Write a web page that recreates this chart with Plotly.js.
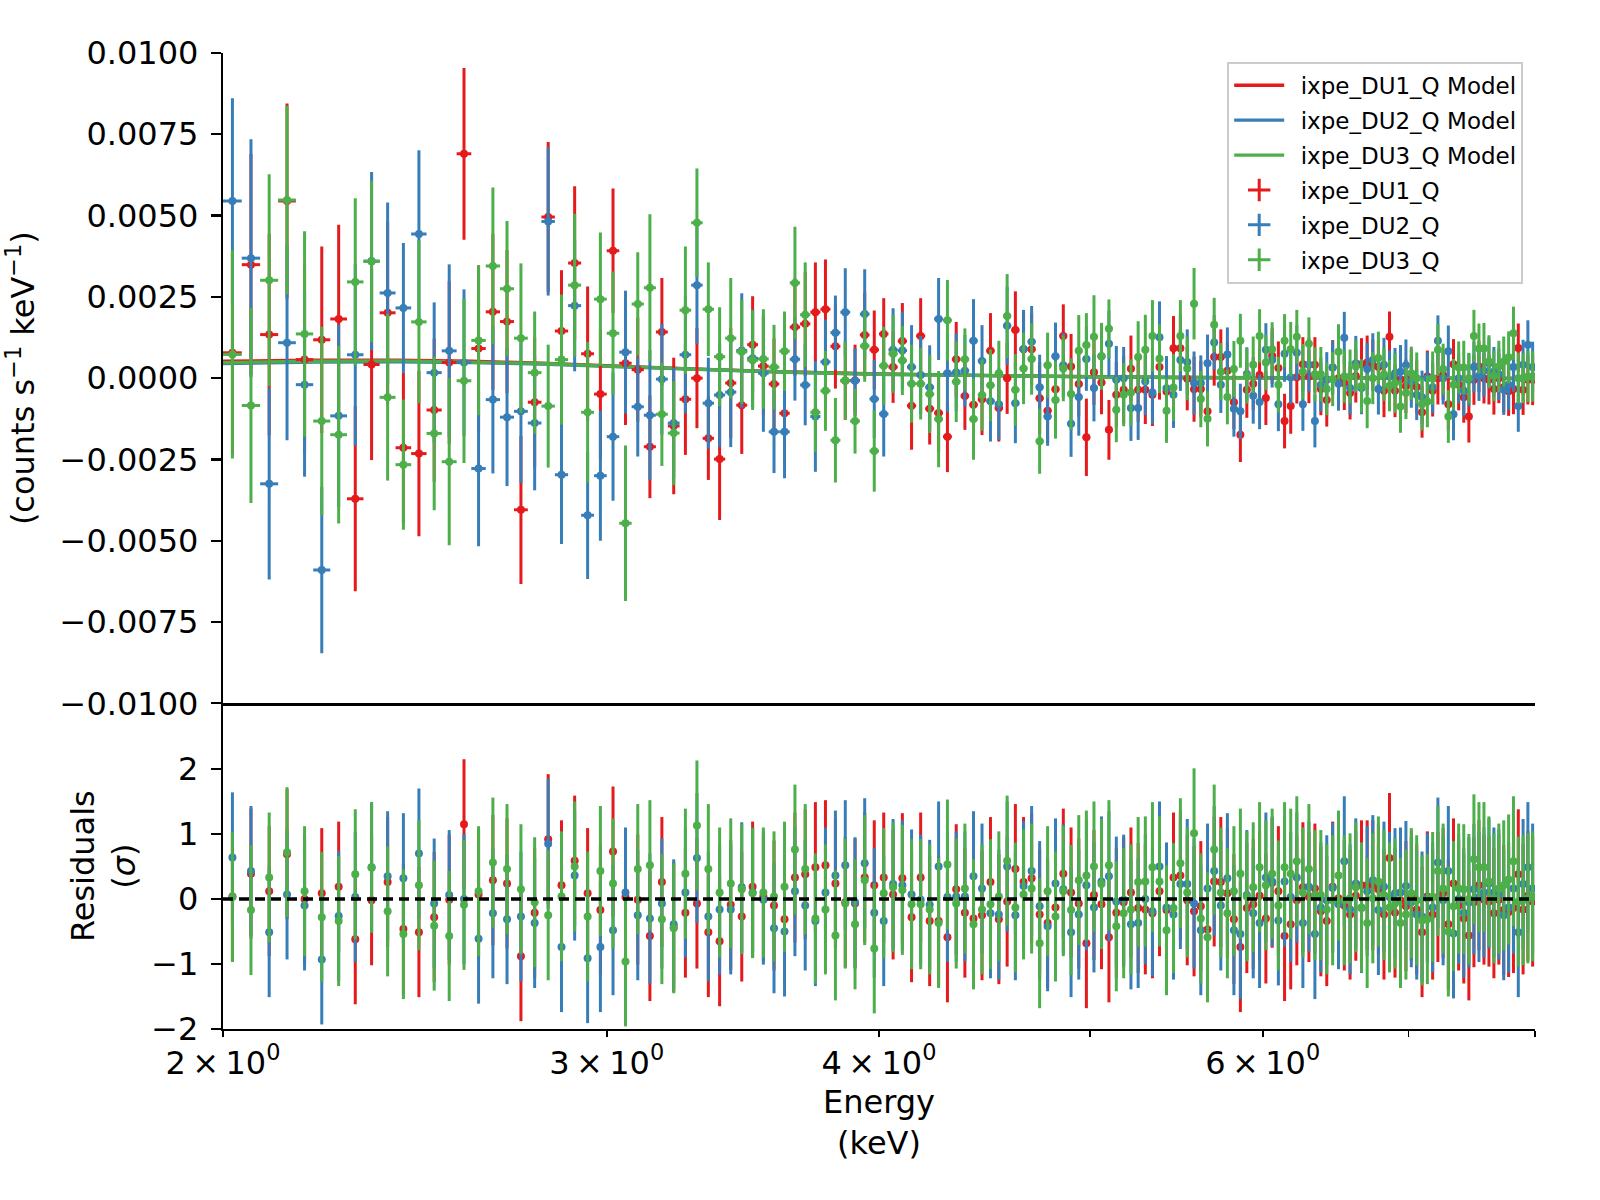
<!DOCTYPE html>
<html>
<head>
<meta charset="utf-8">
<script src="https://cdn.plot.ly/plotly-3.0.1.min.js"></script>
<style>
  body { margin: 0; background: #fff; }
  #plot { width: 1600px; height: 1200px; }
</style>
</head>
<body>
<div id="plot"></div>
<script>
// Energy bin centres (keV), 40 eV IXPE channels
var energy = [
  2.02, 2.06, 2.10, 2.14, 2.18, 2.22, 2.26, 2.30, 2.34, 2.38,
  2.42, 2.46, 2.50, 2.54, 2.58, 2.62, 2.66, 2.70, 2.74, 2.78,
  2.82, 2.86, 2.90, 2.94, 2.98, 3.02, 3.06, 3.10, 3.14, 3.18,
  3.22, 3.26, 3.30, 3.34, 3.38, 3.42, 3.46, 3.50, 3.54, 3.58,
  3.62, 3.66, 3.70, 3.74, 3.78, 3.82, 3.86, 3.90, 3.94, 3.98,
  4.02, 4.06, 4.10, 4.14, 4.18, 4.22, 4.26, 4.30, 4.34, 4.38,
  4.42, 4.46, 4.50, 4.54, 4.58, 4.62, 4.66, 4.70, 4.74, 4.78,
  4.82, 4.86, 4.90, 4.94, 4.98, 5.02, 5.06, 5.10, 5.14, 5.18,
  5.22, 5.26, 5.30, 5.34, 5.38, 5.42, 5.46, 5.50, 5.54, 5.58,
  5.62, 5.66, 5.70, 5.74, 5.78, 5.82, 5.86, 5.90, 5.94, 5.98,
  6.02, 6.06, 6.10, 6.14, 6.18, 6.22, 6.26, 6.30, 6.34, 6.38,
  6.42, 6.46, 6.50, 6.54, 6.58, 6.62, 6.66, 6.70, 6.74, 6.78,
  6.82, 6.86, 6.90, 6.94, 6.98, 7.02, 7.06, 7.10, 7.14, 7.18,
  7.22, 7.26, 7.30, 7.34, 7.38, 7.42, 7.46, 7.50, 7.54, 7.58,
  7.62, 7.66, 7.70, 7.74, 7.78, 7.82, 7.86, 7.90, 7.94, 7.98
];
var binHalfWidth = 0.02;

// Q spectra (counts s^-1 keV^-1)
var du1Q = [
  0.00078, 0.00349, 0.00134, 0.00545, 0.00057, 0.00118, 0.00182, -0.00371, 0.00042, 0.00201,
  -0.00214, -0.00232, -0.00098, 0.00048, 0.0069, 0.00091, 0.00204, 0.00174, -0.00405, -0.00074,
  0.00496, 0.00145, 0.00354, 0.00075, -0.00049, 0.00392, 0.00046, 0.00026, -0.00211, 0.00142,
  -0.00147, -0.00065, 0.0, -0.00185, -0.00249, -0.00015, -0.00083, 0.00103, 0.00037, -0.00018,
  -0.00108, 0.00157, 0.00167, 0.00203, 0.00212, 0.00098, -0.00008, -0.00007, 0.00133, 0.00087,
  0.00136, 0.00034, 0.00114, -0.00085, 0.0013, -0.00094, -0.00107, -0.0018, 0.00058, -0.00055,
  -0.00082, -0.00065, 0.00084, -0.00092, 0.0, 0.00148, 0.00089, 0.00089, -0.00062, -0.001,
  -0.00034, 0.0013, 0.00036, -0.00018, -0.00182, 0.00018, -0.00013, -0.00159, -0.00051, -0.00036,
  0.00029, -0.00036, -0.00036, -0.00051, 0.00034, -0.00041, 0.00092, 0.00092, -0.00002, -0.00034,
  -0.00033, -0.00102, 0.00065, 0.00065, 0.00023, -0.00074, -0.00174, -0.00036, -0.00017, 0.0001,
  -0.00061, 0.00069, 0.00031, -0.00132, -0.00086, 0.00003, 0.00043, 0.00005, 0.00041, -0.00033,
  -0.00067, 0.00033, 0.0, -0.00015, -0.00046, 0.00007, 0.00043, 0.00048, 0.0004, 0.00034,
  -0.00039, 0.00127, -0.00039, -0.00005, -0.00025, 0.0001, -0.00027, -0.00105, 0.00005, -0.00039,
  0.0, 0.0001, -0.0008, 0.00043, -0.0002, -0.00059, -0.00118, -0.00005, 0.00036, 0.0,
  -0.00005, -0.00033, 0.0, -0.00028, -0.0004, -0.00033, 0.00093, -0.00036, -0.00005, -0.00005
];
var du1Err = [
  0.0031, 0.0034, 0.0031, 0.0030, 0.0029, 0.00287, 0.0029, 0.00284, 0.00294, 0.0028,
  0.0023, 0.00254, 0.0022, 0.0025, 0.00264, 0.00256, 0.0024, 0.0022, 0.00228, 0.0020,
  0.0023, 0.00187, 0.00236, 0.00207, 0.0020, 0.00191, 0.0019, 0.0016, 0.00158, 0.00166,
  0.0021, 0.00171, 0.00154, 0.00128, 0.00187, 0.0017, 0.0015, 0.00149, 0.0015, 0.0014,
  0.0014, 0.0015, 0.0016, 0.00153, 0.00153, 0.0013, 0.0012, 0.0011, 0.0013, 0.00121,
  0.0011, 0.0011, 0.00117, 0.00135, 0.00116, 0.0011, 0.0012, 0.00109, 0.00115, 0.00104,
  0.0012, 0.0011, 0.00116, 0.00103, 0.0011, 0.00119, 0.00114, 0.0011, 0.0011, 0.001,
  0.0011, 0.00097, 0.001, 0.001, 0.00119, 0.001, 0.00098, 0.00092, 0.001, 0.00103,
  0.00102, 0.00098, 0.00105, 0.00096, 0.001, 0.00104, 0.00099, 0.00103, 0.00097, 0.001,
  0.00086, 0.00084, 0.00088, 0.00085, 0.00087, 0.00083, 0.00084, 0.00086, 0.00082, 0.00085,
  0.00083, 0.00086, 0.00082, 0.00084, 0.00085, 0.00081, 0.00083, 0.00082, 0.00085, 0.00081,
  0.00082, 0.00084, 0.0008, 0.00083, 0.00081, 0.00082, 0.0008, 0.00083, 0.00079, 0.00082,
  0.00081, 0.00078, 0.00081, 0.0008, 0.00082, 0.00079, 0.00081, 0.00078, 0.0008, 0.00079,
  0.00081, 0.00078, 0.0008, 0.00077, 0.00079, 0.00078, 0.0008, 0.00077, 0.00079, 0.00078,
  0.00076, 0.00079, 0.00077, 0.00078, 0.00076, 0.00078, 0.00075, 0.00077, 0.00076, 0.00078
];
var du2Q = [
  0.00545, 0.00369, -0.00325, 0.00109, -0.0002, -0.0059, -0.00116, 0.00072, 0.0036, 0.00262,
  0.00216, 0.00443, 0.00017, 0.00084, 0.00048, -0.00278, -0.00066, -0.0012, -0.00102, -0.00138,
  0.00482, -0.00297, 0.00223, -0.00422, -0.003, -0.0018, 0.0008, -0.00088, -0.00114, -0.00003,
  -0.00138, 0.00072, 0.00286, -0.00077, -0.00052, -0.00043, 0.00085, 0.00061, 0.00015, -0.00165,
  -0.00165, 0.00058, -0.00021, -0.00118, 0.0005, 0.0014, 0.00203, -0.00008, 0.00197, -0.00064,
  -0.0011, 0.00087, 0.00085, 0.00034, 0.0001, -0.00028, 0.00182, 0.00015, 0.00018, 0.00023,
  0.00115, 0.00053, -0.00071, -0.0008, 0.00161, -0.00077, 0.0009, 0.00112, -0.00028, -0.00118,
  0.00067, 0.0004, -0.0014, -0.00058, 0.00059, -0.0003, 0.00067, 0.00106, -0.00005, 0.0,
  -0.00092, -0.00092, -0.0001, -0.00044, 0.00126, -0.00031, -0.00051, 0.00056, 0.0005, -0.00015,
  -0.00015, 0.00046, 0.0011, -0.0002, 0.00073, -0.00094, -0.00102, 0.00013, -0.00054, -0.00073,
  0.00087, 0.00056, -0.0008, 0.00075, 0.00002, 0.00078, -0.0008, 0.00041, -0.00132, -0.0002,
  -0.00005, 0.00033, -0.00017, 0.00124, -0.0003, 0.00046, -0.0003, 0.00028, 0.00056, -0.00033,
  0.00041, 0.00005, 0.00015, 0.0002, 0.0004, -0.0001, -0.00051, -0.00059, 0.0, -0.00028,
  0.00115, 0.0, 0.00083, -0.00111, 0.0, -0.00039, -0.00005, 0.00034, 0.00007, 0.00023,
  0.00046, 0.0002, 0.00012, -0.00036, -0.0002, 0.00034, -0.00086, 0.00041, 0.00103, 0.00034
];
var du2Err = [
  0.00316, 0.00366, 0.00294, 0.0030, 0.00283, 0.00256, 0.0028, 0.0028, 0.00274, 0.00278,
  0.0020, 0.00258, 0.00216, 0.00266, 0.00225, 0.00239, 0.00227, 0.00212, 0.0022, 0.00207,
  0.00228, 0.00213, 0.00202, 0.00196, 0.0020, 0.00197, 0.00189, 0.00153, 0.0020, 0.0017,
  0.0017, 0.0018, 0.0018, 0.0014, 0.0016, 0.00169, 0.00176, 0.0015, 0.0018, 0.00127,
  0.00143, 0.00127, 0.00124, 0.0017, 0.0013, 0.00114, 0.00135, 0.001, 0.00138, 0.0012,
  0.00131, 0.00128, 0.0012, 0.00129, 0.0012, 0.00129, 0.00126, 0.0012, 0.0012, 0.0011,
  0.00128, 0.0011, 0.00124, 0.0011, 0.0012, 0.00123, 0.0012, 0.0011, 0.001, 0.0009,
  0.00104, 0.00099, 0.00102, 0.00119, 0.00098, 0.00103, 0.00097, 0.00101, 0.00104, 0.00096,
  0.00101, 0.00098, 0.00103, 0.00096, 0.0011, 0.00099, 0.00102, 0.00095, 0.001, 0.00097,
  0.00085, 0.00088, 0.00084, 0.00087, 0.00083, 0.00086, 0.00085, 0.00082, 0.00086, 0.00084,
  0.00082, 0.00085, 0.00083, 0.00086, 0.00081, 0.00084, 0.00082, 0.00084, 0.00081, 0.00083,
  0.00085, 0.00081, 0.00083, 0.0008, 0.00082, 0.00084, 0.00081, 0.0008, 0.00082, 0.00079,
  0.00083, 0.0008, 0.00078, 0.00082, 0.00079, 0.00081, 0.00078, 0.00082, 0.00079, 0.0008,
  0.00078, 0.00081, 0.00079, 0.0008, 0.00077, 0.00079, 0.00081, 0.00078, 0.00077, 0.0008,
  0.00078, 0.00076, 0.00079, 0.00077, 0.00078, 0.00076, 0.00079, 0.00077, 0.00075, 0.00078
];
var du3Q = [
  0.00073, -0.00084, 0.00301, 0.00548, 0.00136, -0.00132, -0.00174, 0.00296, 0.00359, -0.00059,
  -0.00266, 0.00173, -0.0017, -0.00257, -0.00008, 0.00116, 0.00345, 0.00275, 0.00123, 0.00017,
  -0.00086, 0.00057, 0.00286, -0.00105, 0.00243, 0.00138, -0.00446, 0.00228, 0.00278, -0.00111,
  -0.00169, 0.00209, 0.00478, 0.00212, 0.00066, 0.00123, 0.00081, 0.00055, 0.00059, 0.00034,
  0.00083, 0.00293, 0.00195, -0.00105, -0.00039, -0.00191, -0.00007, -0.00132, 0.00099, -0.00224,
  0.00038, 0.00075, 0.00054, -0.00017, -0.00017, -0.00049, -0.00126, 0.00178, -0.00011, 0.00058,
  -0.00126, -0.00052, -0.00022, 0.00015, 0.00191, -0.00036, 0.0003, 0.00059, -0.00194, 0.0004,
  -0.00067, 0.0003, -0.00049, 0.00084, 0.00102, 0.00127, 0.00067, 0.00152, -0.00097, -0.00051,
  -0.00044, 0.00065, 0.00087, 0.0013, 0.0006, -0.001, -0.00029, 0.0013, 0.0003, 0.00229,
  -0.00064, -0.00125, 0.00164, 0.0002, -0.00058, 0.00028, 0.00115, 0.00007, 0.00041, 0.0013,
  0.00048, 0.00089, -0.0002, 0.00115, 0.00089, 0.00127, 0.0002, 0.00106, 0.00012, 0.00012,
  -0.00033, -0.00003, 0.00081, 0.00005, 0.00005, 0.00036, -0.00024, -0.0007, 0.0, 0.00062,
  0.00012, -0.00023, -0.00015, -0.00087, -0.00046, 0.00015, 0.0, -0.0008, -0.00072, 0.0,
  0.00087, 0.00028, -0.00118, -0.0002, 0.00033, 0.00033, 0.0, 0.0013, 0.00091, 0.00091,
  0.00051, 0.00007, 0.00036, 0.00051, 0.00064, 0.00138, 0.0, 0.0, 0.00005, 0.00005
];
var du3Err = [
  0.0032, 0.0030, 0.00326, 0.0029, 0.00316, 0.0029, 0.00273, 0.00257, 0.00248, 0.00256,
  0.0020, 0.0025, 0.00236, 0.00257, 0.00253, 0.0023, 0.00241, 0.00208, 0.0023, 0.00188,
  0.00189, 0.0020, 0.0022, 0.00216, 0.00205, 0.0019, 0.00239, 0.00159, 0.00226, 0.00159,
  0.0016, 0.00196, 0.00167, 0.00144, 0.00152, 0.00185, 0.0016, 0.00153, 0.00153, 0.0013,
  0.00122, 0.00173, 0.00161, 0.00122, 0.00123, 0.0013, 0.0012, 0.001, 0.0011, 0.00125,
  0.0012, 0.0012, 0.00106, 0.0012, 0.0011, 0.0012, 0.00148, 0.00124, 0.00124, 0.00095,
  0.00125, 0.0011, 0.0011, 0.001, 0.00129, 0.0011, 0.0011, 0.0011, 0.001, 0.001,
  0.00119, 0.00101, 0.0011, 0.0011, 0.00098, 0.00128, 0.00103, 0.0009, 0.001, 0.00097,
  0.00102, 0.0011, 0.00108, 0.0011, 0.00106, 0.00099, 0.00103, 0.0011, 0.00098, 0.0011,
  0.00087, 0.00085, 0.00083, 0.00088, 0.00084, 0.00086, 0.00083, 0.00085, 0.00087, 0.00082,
  0.00085, 0.00083, 0.00086, 0.00082, 0.00084, 0.00083, 0.00085, 0.00081, 0.00083, 0.00084,
  0.00081, 0.00083, 0.00085, 0.00081, 0.00083, 0.0008, 0.00082, 0.00084, 0.0008, 0.00081,
  0.00082, 0.00079, 0.00092, 0.00081, 0.0008, 0.00082, 0.00079, 0.00081, 0.00079, 0.00082,
  0.0008, 0.00078, 0.00081, 0.00079, 0.0008, 0.00082, 0.00078, 0.0008, 0.00077, 0.00079,
  0.00081, 0.00078, 0.00079, 0.00077, 0.0008, 0.00082, 0.00078, 0.00077, 0.00079, 0.00077
];

// Residuals (sigma), error bars are 1 sigma
var du1Resid = [
  0.04, 0.39, 0.12, 0.69, 0.0, 0.09, 0.19, -0.62, -0.02, 0.26,
  -0.46, -0.51, -0.28, -0.01, 1.15, 0.07, 0.29, 0.24, -0.88, -0.21,
  0.92, 0.21, 0.59, 0.09, -0.17, 0.73, 0.03, -0.01, -0.57, 0.26,
  -0.43, -0.21, -0.07, -0.51, -0.65, -0.09, -0.27, 0.19, 0.04, -0.10,
  -0.31, 0.33, 0.38, 0.49, 0.52, 0.24, -0.05, -0.07, 0.33, 0.21,
  0.33, 0.07, 0.32, -0.28, 0.33, -0.34, -0.34, -0.59, 0.15, -0.21,
  -0.30, -0.25, 0.26, -0.31, -0.04, 0.46, 0.26, 0.32, -0.24, -0.37,
  -0.13, 0.39, 0.10, -0.07, -0.68, 0.06, -0.08, -0.59, -0.21, -0.05,
  0.10, -0.14, -0.16, -0.22, 0.12, -0.17, 0.33, 0.36, -0.02, -0.19,
  -0.11, -0.47, 0.27, 0.26, 0.09, -0.31, -0.74, -0.14, -0.08, 0.05,
  -0.30, 0.25, 0.12, -0.57, -0.39, -0.02, 0.18, 0.03, 0.16, -0.19,
  -0.34, 0.19, 0.01, -0.10, -0.24, 0.05, 0.21, 0.21, 0.21, 0.15,
  -0.24, 0.63, -0.21, -0.02, -0.11, 0.05, -0.16, -0.51, 0.04, -0.24,
  0.03, 0.09, -0.39, 0.24, -0.10, -0.30, -0.56, -0.05, 0.21, -0.01,
  -0.04, -0.22, -0.01, -0.17, -0.20, -0.14, 0.38, -0.16, 0.05, -0.04
];
var du2Resid = [
  0.64, 0.43, -0.51, 0.07, -0.10, -0.93, -0.26, 0.03, 0.49, 0.35,
  0.32, 0.70, -0.07, 0.06, 0.0, -0.61, -0.22, -0.31, -0.27, -0.37,
  0.85, -0.74, 0.36, -0.91, -0.74, -0.48, 0.10, -0.25, -0.30, -0.07,
  -0.39, 0.10, 0.63, -0.27, -0.16, -0.16, 0.18, 0.10, -0.01, -0.45,
  -0.50, 0.12, -0.10, -0.34, 0.10, 0.36, 0.52, -0.05, 0.55, -0.21,
  -0.34, 0.23, 0.21, 0.07, -0.01, -0.09, 0.50, 0.03, 0.04, 0.04,
  0.35, 0.16, -0.22, -0.24, 0.50, -0.25, 0.20, 0.43, -0.11, -0.42,
  0.24, 0.15, -0.51, -0.24, 0.21, -0.13, 0.27, 0.35, -0.04, -0.01,
  -0.39, -0.37, 0.0, -0.19, 0.50, -0.13, -0.24, 0.23, 0.23, -0.07,
  -0.48, 0.16, 0.43, -0.10, 0.32, -0.48, -0.54, 0.06, -0.22, -0.37,
  0.33, 0.27, -0.33, 0.27, 0.03, 0.33, -0.37, 0.19, -0.54, -0.13,
  -0.02, 0.17, -0.08, 0.58, -0.16, 0.24, -0.14, 0.12, 0.29, -0.17,
  0.19, 0.03, 0.09, 0.10, 0.20, -0.05, -0.24, -0.27, 0.01, -0.13,
  0.56, -0.02, 0.43, -0.53, 0.0, -0.21, -0.05, 0.15, 0.03, 0.10,
  0.24, 0.10, 0.07, -0.25, -0.13, 0.16, -0.51, 0.23, 0.49, 0.16
];
var du3Resid = [
  0.03, -0.17, 0.33, 0.72, 0.12, -0.28, -0.34, 0.38, 0.48, -0.19,
  -0.54, 0.21, -0.41, -0.57, -0.09, 0.12, 0.56, 0.46, 0.15, -0.05,
  -0.25, 0.04, 0.50, -0.27, 0.43, 0.24, -0.96, 0.46, 0.52, -0.31,
  -0.45, 0.39, 1.13, 0.46, 0.10, 0.24, 0.15, 0.09, 0.10, 0.04,
  0.19, 0.76, 0.46, -0.30, -0.16, -0.56, -0.07, -0.39, 0.29, -0.76,
  0.09, 0.18, 0.14, -0.08, -0.08, -0.16, -0.37, 0.53, -0.07, 0.16,
  -0.39, -0.16, -0.08, 0.04, 0.59, -0.13, 0.07, 0.16, -0.68, 0.12,
  -0.27, 0.12, -0.17, 0.29, 0.36, 0.50, 0.23, 0.52, -0.42, -0.22,
  -0.16, 0.26, 0.27, 0.49, 0.27, -0.48, -0.14, 0.55, 0.10, 1.01,
  -0.30, -0.59, 0.76, 0.10, -0.22, 0.12, 0.39, 0.04, 0.18, 0.49,
  0.21, 0.39, -0.10, 0.49, 0.39, 0.58, 0.10, 0.46, 0.06, 0.06,
  -0.16, -0.02, 0.36, -0.02, 0.01, 0.18, -0.13, -0.37, 0.01, 0.27,
  0.06, -0.13, -0.07, -0.37, -0.24, 0.09, -0.02, -0.33, -0.31, 0.03,
  0.43, 0.16, -0.50, -0.11, 0.16, 0.15, 0.0, 0.61, 0.49, 0.49,
  0.27, 0.01, 0.16, 0.21, 0.30, 0.58, -0.04, -0.02, 0.01, 0.04
];

// Folded model curves
var modelEnergy = [2.0, 2.2, 2.4, 2.6, 2.8, 3.0, 3.3, 3.6, 4.0, 4.5, 5.0, 5.5, 6.0, 7.0, 8.0];
var du1Model = [0.00052, 0.00055, 0.00055, 0.00052, 0.00046, 0.00038, 0.00028, 0.00020, 0.00013, 0.00008, 0.00004, 0.00002, 0.00001, 0.0, -0.00001];
var du2Model = [0.00045, 0.00049, 0.00050, 0.00048, 0.00043, 0.00036, 0.00027, 0.00019, 0.00012, 0.00007, 0.00004, 0.00002, 0.00001, 0.0, -0.00001];
var du3Model = [0.00048, 0.00052, 0.00053, 0.00050, 0.00045, 0.00037, 0.00027, 0.00019, 0.00012, 0.00007, 0.00004, 0.00002, 0.00001, 0.0, -0.00002];

var names = ['ixpe_DU1_Q', 'ixpe_DU2_Q', 'ixpe_DU3_Q'];
var colors = ['#e41a1c', '#377eb8', '#4daf4a'];
var spectra = [du1Q, du2Q, du3Q];
var errors = [du1Err, du2Err, du3Err];
var resids = [du1Resid, du2Resid, du3Resid];
var models = [du1Model, du2Model, du3Model];

var xTicks = [2, 3, 4, 6];
var xTickText = ['2\u2009×\u200910<sup>0</sup>', '3\u2009×\u200910<sup>0</sup>', '4\u2009×\u200910<sup>0</sup>', '6\u2009×\u200910<sup>0</sup>'];
var xTicksUnlabelled = [5, 7, 8];

var font = 'DejaVu Sans';
var gap = '\u2002';  // keeps a small gap between legend handle and label
var data = [];

// model lines first (drawn under the data)
for (var i = 0; i < 3; i++) {
  data.push({
    x: modelEnergy, y: models[i],
    xaxis: 'x2', yaxis: 'y2',
    type: 'scatter', mode: 'lines',
    name: gap + names[i] + ' Model',
    legendgroup: 'm' + i, legendrank: i + 1,
    line: {color: colors[i], width: 3.3}
  });
}
// data points with errors, top panel
for (var i = 0; i < 3; i++) {
  data.push({
    x: energy, y: spectra[i],
    xaxis: 'x2', yaxis: 'y2',
    type: 'scatter', mode: 'markers',
    showlegend: false,
    marker: {color: colors[i], size: 8},
    error_y: {type: 'data', array: errors[i], color: colors[i], thickness: 3, width: 0},
    error_x: {type: 'constant', value: binHalfWidth, color: colors[i], thickness: 3, width: 0}
  });
}
// residuals, bottom panel
for (var i = 0; i < 3; i++) {
  data.push({
    x: energy, y: resids[i],
    xaxis: 'x', yaxis: 'y',
    type: 'scatter', mode: 'markers',
    showlegend: false,
    marker: {color: colors[i], size: 8},
    error_y: {type: 'constant', value: 1, color: colors[i], thickness: 3, width: 0}
  });
}
// legend entries for the data (cross symbol like errorbar handles)
for (var i = 0; i < 3; i++) {
  data.push({
    x: [null], y: [null],
    xaxis: 'x2', yaxis: 'y2',
    type: 'scatter', mode: 'markers',
    name: gap + names[i],
    legendgroup: 'd' + i, legendrank: i + 4,
    marker: {symbol: 'cross-thin', size: 16, color: colors[i], line: {color: colors[i], width: 3}}
  });
}

var split = 0.3337;
var axisCommon = {
  showline: true, linecolor: '#000', linewidth: 2.2,
  ticks: 'outside', ticklen: 10, tickwidth: 2.2, tickcolor: '#000',
  showgrid: false, zeroline: false,
  tickfont: {family: font, size: 32, color: '#000'}
};

var layout = {
  width: 1600, height: 1200,
  margin: {l: 223, r: 65, t: 53, b: 171},
  paper_bgcolor: '#fff', plot_bgcolor: '#fff',
  font: {family: font, color: '#000'},
  xaxis: Object.assign({}, axisCommon, {
    type: 'log', range: [Math.log10(2), Math.log10(8)],
    domain: [0, 1], anchor: 'y',
    tickmode: 'array', tickvals: xTicks, ticktext: xTickText,
    ticklen: 6, tickwidth: 1.7,
    minor: {tickmode: 'array', tickvals: xTicksUnlabelled, ticks: 'outside', ticklen: 6, tickwidth: 1.7, tickcolor: '#000', showgrid: false},
    ticklabelstandoff: -2,
    title: {text: 'Energy<br>(keV)', font: {family: font, size: 32}, standoff: 10}
  }),
  yaxis: Object.assign({}, axisCommon, {
    domain: [0, split], anchor: 'x',
    range: [-2, 3.01],
    tickmode: 'array', tickvals: [-2, -1, 0, 1, 2],
    ticklabelstandoff: 6,
    title: {text: 'Residuals<br>(<i>σ</i>)', font: {family: font, size: 32}, standoff: 6}
  }),
  xaxis2: Object.assign({}, axisCommon, {
    type: 'log', range: [Math.log10(2), Math.log10(8)],
    domain: [0, 1], anchor: 'y2', matches: 'x',
    ticks: '', showticklabels: false
  }),
  yaxis2: Object.assign({}, axisCommon, {
    domain: [split, 1], anchor: 'x2',
    range: [-0.01, 0.01],
    tickmode: 'array', tickvals: [-0.01, -0.0075, -0.005, -0.0025, 0, 0.0025, 0.005, 0.0075, 0.01],
    tickformat: '.4f',
    ticklabelstandoff: 6,
    title: {text: '(counts s<sup>\u22121</sup> keV<sup>\u22121</sup>)', font: {family: font, size: 32}, standoff: 22}
  }),
  shapes: [{
    type: 'line', xref: 'x domain', yref: 'y',
    x0: 0, x1: 1, y0: 0, y1: 0,
    layer: 'above',
    line: {color: '#000', width: 3.3, dash: '10px,6px'}
  }],
  legend: {
    x: 0.991, xanchor: 'right', y: 0.991, yanchor: 'top',
    bgcolor: 'rgba(255,255,255,0.8)', bordercolor: '#cccccc', borderwidth: 2,
    font: {family: font, size: 23, color: '#000'},
    traceorder: 'grouped', tracegroupgap: 2,
    itemwidth: 50
  },
  showlegend: true
};

Plotly.newPlot('plot', data, layout, {staticPlot: true});
</script>
</body>
</html>
